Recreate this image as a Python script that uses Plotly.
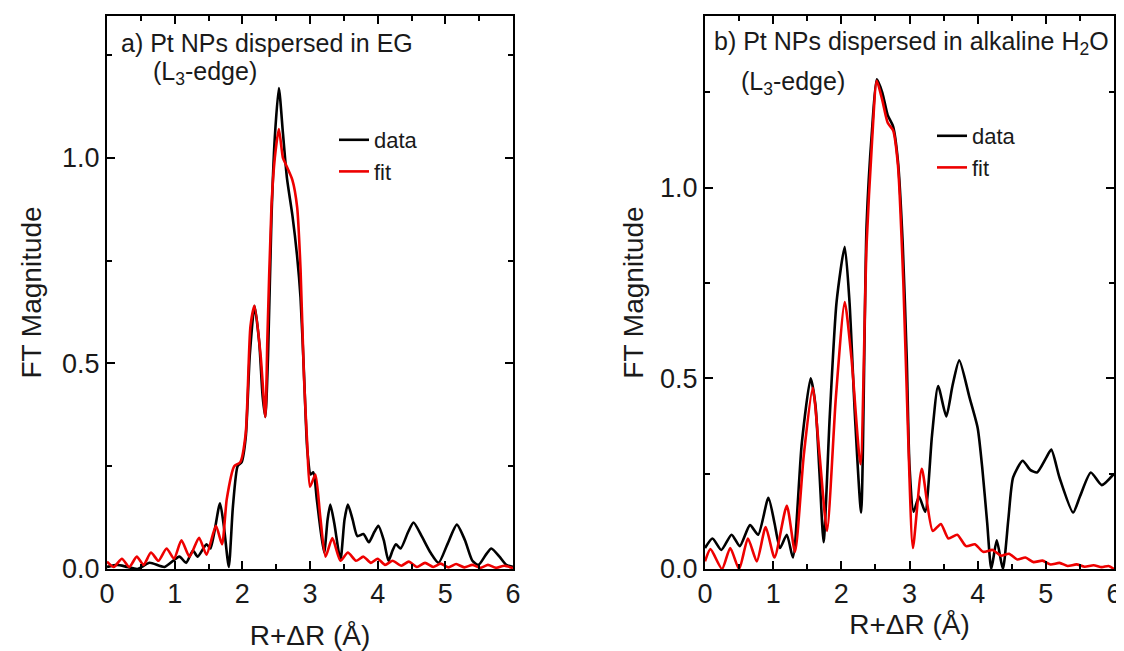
import plotly.graph_objects as go

# ---------------- data ----------------
# Panel a) Pt NPs dispersed in EG
a_data_r = [0.0, 0.15, 0.3, 0.45, 0.63, 0.85, 1.07, 1.17, 1.27, 1.34, 1.47, 1.53, 1.67, 1.73, 1.80,
            1.86, 1.93, 1.99, 2.05, 2.11, 2.18, 2.25, 2.30, 2.34, 2.38, 2.43, 2.48, 2.54, 2.60, 2.66,
            2.74, 2.81, 2.86, 2.91, 2.96, 3.01, 3.05, 3.10, 3.16, 3.21, 3.26, 3.30, 3.36, 3.45, 3.51,
            3.56, 3.63, 3.70, 3.79, 3.87, 3.95, 4.01, 4.09, 4.16, 4.22, 4.27, 4.34, 4.45, 4.53, 4.65,
            4.78, 4.90, 5.03, 5.17, 5.29, 5.40, 5.49, 5.60, 5.68, 5.80, 5.90, 6.0]
a_data_v = [0.005, 0.01, 0.005, 0.0, 0.015, 0.005, 0.03, 0.015, 0.045, 0.03, 0.06, 0.05, 0.16, 0.10, 0.005,
            0.15, 0.25, 0.26, 0.32, 0.52, 0.64, 0.55, 0.42, 0.37, 0.52, 0.85, 1.05, 1.17, 1.06, 0.95,
            0.86, 0.76, 0.66, 0.48, 0.29, 0.23, 0.235, 0.17, 0.09, 0.04, 0.12, 0.157, 0.11, 0.022, 0.12,
            0.157, 0.12, 0.08, 0.085, 0.065, 0.09, 0.105, 0.07, 0.02, 0.045, 0.06, 0.05, 0.09, 0.113, 0.08,
            0.04, 0.015, 0.06, 0.108, 0.07, 0.02, 0.01, 0.035, 0.05, 0.03, 0.01, 0.005]

a_fit_r = [0.0, 0.1, 0.22, 0.33, 0.44, 0.54, 0.65, 0.76, 0.88, 0.99, 1.10, 1.22, 1.36, 1.47, 1.61,
           1.70, 1.77, 1.88, 1.97, 2.05, 2.12, 2.18, 2.27, 2.34, 2.37, 2.43, 2.48, 2.54, 2.60, 2.64,
           2.74, 2.81, 2.86, 2.91, 2.96, 3.00, 3.08, 3.15, 3.23, 3.33, 3.45, 3.56, 3.68, 3.79, 3.90,
           4.00, 4.11, 4.22, 4.35, 4.46, 4.58, 4.70, 4.82, 4.93, 5.05, 5.16, 5.28, 5.40, 5.52, 5.63,
           5.75, 5.87, 6.0]
a_fit_v = [0.018, 0.005, 0.025, 0.005, 0.03, 0.01, 0.04, 0.02, 0.05, 0.025, 0.07, 0.03, 0.076, 0.035, 0.105,
           0.06, 0.17, 0.25, 0.26, 0.33, 0.59, 0.64, 0.52, 0.37, 0.56, 0.88, 1.0, 1.07, 1.0, 0.985,
           0.946, 0.88, 0.73, 0.47, 0.30, 0.20, 0.23, 0.13, 0.03, 0.075, 0.02, 0.04, 0.02, 0.03, 0.015,
           0.025, 0.01, 0.02, 0.008, 0.018, 0.005, 0.015, 0.005, 0.013, 0.004, 0.012, 0.004, 0.01, 0.003, 0.01,
           0.003, 0.008, 0.002]

# Panel b) Pt NPs dispersed in alkaline H2O
b_data_r = [0.0, 0.11, 0.24, 0.39, 0.51, 0.66, 0.78, 0.93, 1.02, 1.10, 1.20, 1.29, 1.42, 1.55, 1.62,
            1.68, 1.74, 1.83, 1.93, 2.05, 2.12, 2.20, 2.29, 2.37, 2.45, 2.52, 2.60, 2.68, 2.76, 2.83,
            2.90, 2.96, 3.00, 3.06, 3.14, 3.23, 3.33, 3.42, 3.54, 3.63, 3.73, 3.88, 4.00, 4.07, 4.14,
            4.20, 4.28, 4.37, 4.45, 4.52, 4.66, 4.77, 4.87, 5.00, 5.08, 5.20, 5.40, 5.50, 5.66, 5.82, 6.0]
b_data_v = [0.055, 0.08, 0.05, 0.09, 0.06, 0.115, 0.09, 0.187, 0.12, 0.055, 0.09, 0.03, 0.33, 0.50, 0.43,
            0.25, 0.07, 0.40, 0.70, 0.845, 0.70, 0.40, 0.148, 0.90, 1.15, 1.284, 1.25, 1.19, 1.16, 1.07,
            0.855, 0.55, 0.27, 0.15, 0.19, 0.15, 0.35, 0.48, 0.40, 0.48, 0.547, 0.45, 0.37, 0.26, 0.12,
            0.0, 0.075, 0.0, 0.13, 0.24, 0.284, 0.26, 0.253, 0.29, 0.313, 0.24, 0.148, 0.19, 0.253, 0.22, 0.25]

b_fit_r = [0.0, 0.08, 0.25, 0.37, 0.50, 0.63, 0.76, 0.89, 1.02, 1.20, 1.32, 1.45, 1.58, 1.68, 1.79,
           1.92, 2.05, 2.15, 2.28, 2.37, 2.45, 2.52, 2.60, 2.68, 2.76, 2.83, 2.91, 2.98, 3.05, 3.18,
           3.34, 3.46, 3.57, 3.70, 3.83, 3.96, 4.08, 4.22, 4.34, 4.46, 4.58, 4.70, 4.82, 4.95, 5.07,
           5.20, 5.32, 5.45, 5.57, 5.70, 5.82, 5.92, 6.0]
b_fit_v = [0.02, 0.052, 0.0, 0.055, 0.0, 0.08, 0.02, 0.11, 0.03, 0.166, 0.045, 0.30, 0.475, 0.30, 0.10,
           0.45, 0.70, 0.55, 0.275, 0.85, 1.12, 1.28, 1.23, 1.17, 1.15, 1.06, 0.75, 0.35, 0.055, 0.263,
           0.10, 0.118, 0.08, 0.09, 0.06, 0.065, 0.045, 0.05, 0.035, 0.04, 0.025, 0.03, 0.018, 0.022, 0.012,
           0.016, 0.008, 0.012, 0.006, 0.01, 0.005, 0.008, 0.0]

x_ticks = [0, 1, 2, 3, 4, 5, 6]
y_ticks = [0.0, 0.5, 1.0]

# ---------------- figure ----------------
# The page body has an 8px margin, so the figure is drawn 8px in from the window edge.
OFF = 8
W, H = 1124 - OFF, 651 - OFF
FONT = "Liberation Sans, Arial, sans-serif"
TXT = "#1a1a1a"
BLACK = "#000000"
RED = "#ee0000"

def px_x(p):
    return (p - OFF) / W

def px_y(p):
    return 1 - (p - OFF) / H

fig = go.Figure()
fig.add_trace(go.Scatter(x=a_data_r, y=a_data_v, mode="lines", name="data",
                         line=dict(color=BLACK, width=2.6, shape="spline", smoothing=0.6),
                         xaxis="x", yaxis="y", legend="legend"))
fig.add_trace(go.Scatter(x=a_fit_r, y=a_fit_v, mode="lines", name="fit",
                         line=dict(color=RED, width=2.6, shape="spline", smoothing=0.6),
                         xaxis="x", yaxis="y", legend="legend"))
fig.add_trace(go.Scatter(x=b_data_r, y=b_data_v, mode="lines", name="data",
                         line=dict(color=BLACK, width=2.6, shape="spline", smoothing=0.6),
                         xaxis="x2", yaxis="y2", legend="legend2"))
fig.add_trace(go.Scatter(x=b_fit_r, y=b_fit_v, mode="lines", name="fit",
                         line=dict(color=RED, width=2.6, shape="spline", smoothing=0.6),
                         xaxis="x2", yaxis="y2", legend="legend2"))

common_axis = dict(
    showgrid=False, zeroline=False, showline=True, linecolor=BLACK, linewidth=2,
    mirror="ticks", ticks="inside", ticklen=8, tickwidth=2, tickcolor=BLACK,
    tickfont=dict(family=FONT, size=27, color=TXT), automargin=False,
)
title_font = dict(family=FONT, size=28, color=TXT)

def minor(dt):
    return dict(dtick=dt, tick0=0, ticks="inside", ticklen=5, tickwidth=2, tickcolor=BLACK)

ydom = [px_y(569), px_y(16)]
fig.update_layout(
    width=W, height=H,
    margin=dict(l=0, r=0, t=0, b=0, autoexpand=False),
    paper_bgcolor="white", plot_bgcolor="white",
    font=dict(family=FONT, color=TXT),
    xaxis=dict(domain=[px_x(107), px_x(513)], range=[0, 6], tickvals=x_ticks, minor=minor(0.5),
               title=dict(text="R+ΔR (Å)", font=title_font, standoff=22),
               anchor="y", **common_axis),
    yaxis=dict(domain=ydom, range=[0, 1.345], tickvals=y_ticks, tickformat=".1f", minor=minor(0.25),
               title=dict(text="FT Magnitude", font=title_font, standoff=12),
               anchor="x", **common_axis),
    xaxis2=dict(domain=[px_x(705), px_x(1114)], range=[0, 6], tickvals=x_ticks, minor=minor(0.5),
                title=dict(text="R+ΔR (Å)", font=title_font, standoff=6),
                anchor="y2", **common_axis),
    yaxis2=dict(domain=ydom, range=[0, 1.45], tickvals=y_ticks, tickformat=".1f", minor=minor(0.25),
                title=dict(text="FT Magnitude", font=title_font, standoff=8),
                anchor="x2", **common_axis),
    legend=dict(x=px_x(334), y=px_y(119), xanchor="left", yanchor="top",
                bgcolor="rgba(0,0,0,0)", borderwidth=0,
                font=dict(family=FONT, size=22, color=TXT), tracegroupgap=0),
    legend2=dict(x=px_x(932), y=px_y(115), xanchor="left", yanchor="top",
                 bgcolor="rgba(0,0,0,0)", borderwidth=0,
                 font=dict(family=FONT, size=22, color=TXT), tracegroupgap=0),
    showlegend=True,
)

ann_font = dict(family=FONT, size=25, color=TXT)
fig.add_annotation(x=px_x(119), y=px_y(43), xref="paper", yref="paper", xanchor="left", yanchor="middle",
                   text="a) Pt NPs dispersed in EG", showarrow=False, font=ann_font)
fig.add_annotation(x=px_x(151), y=px_y(73), xref="paper", yref="paper", xanchor="left", yanchor="middle",
                   text="(L<sub>3</sub>-edge)", showarrow=False, font=ann_font)
fig.add_annotation(x=px_x(712), y=px_y(43), xref="paper", yref="paper", xanchor="left", yanchor="middle",
                   text="b) Pt NPs dispersed in alkaline H<sub>2</sub>O", showarrow=False, font=ann_font)
fig.add_annotation(x=px_x(739), y=px_y(83), xref="paper", yref="paper", xanchor="left", yanchor="middle",
                   text="(L<sub>3</sub>-edge)", showarrow=False, font=ann_font)

fig.write_html("out.html")
